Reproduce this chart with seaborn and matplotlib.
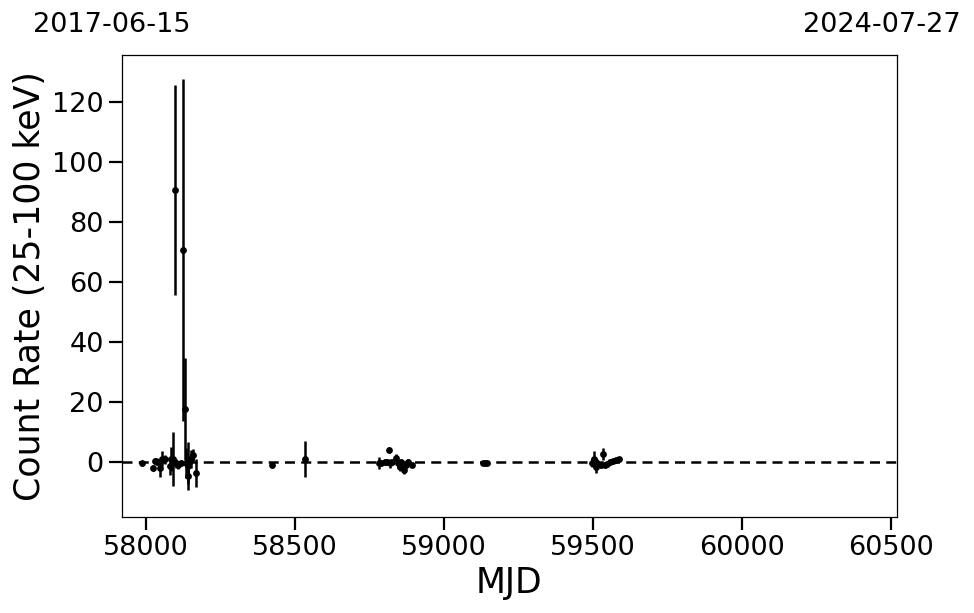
import numpy as np
import pandas as pd
import matplotlib
matplotlib.use("Agg")
import matplotlib.pyplot as plt
import seaborn as sns

# light curve (MJD, count rate, 1-sigma error)
mjd = [57987, 58023, 58029, 58037, 58046, 58055, 58063, 58080, 58085, 58091,
       58096, 58101, 58107, 58118, 58124, 58131, 58135, 58140, 58141, 58146,
       58152, 58158, 58167,
       58423, 58534,
       58782, 58790, 58801, 58809, 58815, 58818, 58827, 58840, 58846, 58851,
       58857, 58865, 58871, 58879, 58894,
       59132, 59138, 59144,
       59495, 59502, 59509, 59511, 59527, 59533, 59539, 59547, 59556, 59567,
       59578, 59587]
rate = [-0.5, -1.9, 0.3, 0.0, -2.2, 1.1, 0.8, -1.4, 0.8, 1.0,
        90.8, -0.5, -1.1, -0.5, 70.5, 17.5, -0.5, -1.5, -4.8, 0.0,
        1.1, 2.2, -3.7,
        -1.2, 1.1,
        -0.4, -0.3, 0.0, 0.0, 3.9, -0.5, 0.0, 1.4, -0.5, -1.7,
        0.0, -2.7, -1.0, 0.0, -1.0,
        -0.3, -0.4, -0.4,
        -0.3, 1.1, -1.7, 0.0, -0.9, 2.7, -0.9, -0.6, 0.0, 0.3,
        0.6, 0.8]
err = [0.8, 1.0, 1.0, 1.2, 3.0, 2.5, 1.5, 3.0, 4.0, 9.0,
       35.0, 1.5, 1.2, 1.0, 57.0, 17.0, 5.0, 8.0, 2.5, 2.0,
       3.0, 2.0, 4.8,
       0.8, 6.0,
       2.0, 1.0, 1.0, 1.0, 1.0, 1.5, 1.0, 1.2, 1.5, 1.2,
       1.0, 1.5, 1.0, 0.8, 0.8,
       0.5, 0.5, 0.5,
       1.5, 2.5, 2.0, 1.2, 1.0, 2.0, 1.0, 0.8, 0.6, 0.6,
       0.6, 0.6]

start_label = "2017-06-15"
end_label = "2024-07-27"
xlim = (57919, 60518)

df = pd.DataFrame({"MJD": mjd, "rate": rate, "err": err})

sns.set_style("ticks")
plt.rcParams.update({"text.color": "black", "axes.labelcolor": "black",
                     "xtick.color": "black", "ytick.color": "black"})
fig = plt.figure(figsize=(9.74, 6.13), dpi=100)
ax = fig.add_axes([0.125, 0.157, 0.7956, 0.753])

ax.errorbar(df["MJD"], df["rate"], yerr=df["err"], fmt="none",
            ecolor="black", elinewidth=1.8, capsize=0, zorder=2)
sns.scatterplot(data=df, x="MJD", y="rate", color="black", s=24,
                edgecolor="black", linewidth=0, ax=ax, zorder=3)
ax.axhline(0, color="black", linestyle="--", linewidth=1.8, dashes=(4, 2.5))

ax.set_xlim(*xlim)
ax.set_ylim(-18.3, 135.6)
ax.set_xticks([58000, 58500, 59000, 59500, 60000, 60500])
ax.set_yticks([0, 20, 40, 60, 80, 100, 120])
ax.set_xlabel("MJD", fontsize=25)
ax.set_ylabel("Count Rate (25-100 keV)", fontsize=25)
ax.tick_params(axis="both", labelsize=19.5, length=9.5, width=1.6,
               direction="out", color="black", labelcolor="black")
for sp in ax.spines.values():
    sp.set_linewidth(0.9)
    sp.set_color("black")

fig.text(33 / 974, 1 - 32.3 / 613, start_label, fontsize=19.5,
         ha="left", va="baseline", color="black")
fig.text(961 / 974, 1 - 32.3 / 613, end_label, fontsize=19.5,
         ha="right", va="baseline", color="black")

fig.savefig("out.png", dpi=100)
